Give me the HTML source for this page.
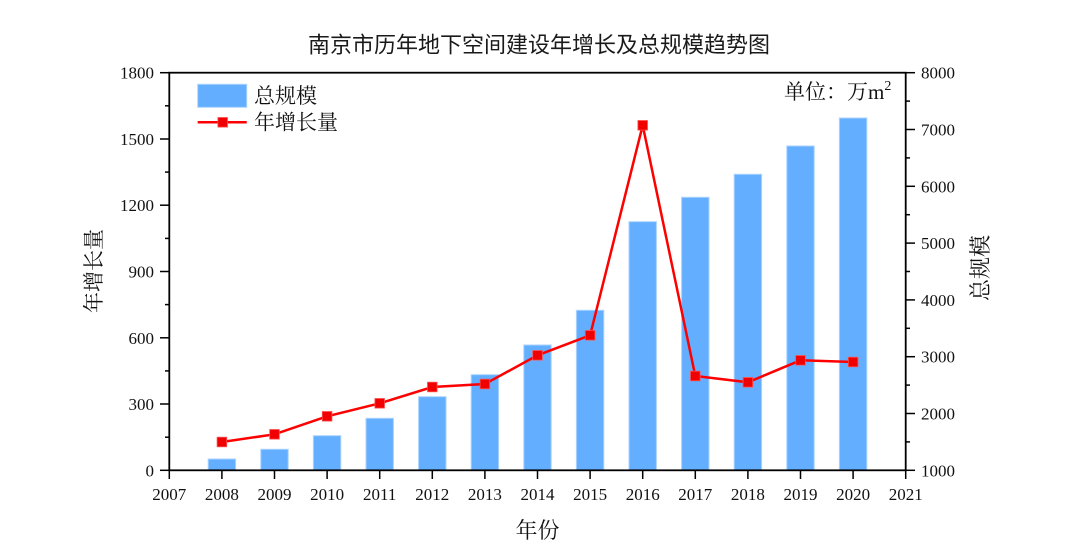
<!DOCTYPE html>
<html><head><meta charset="utf-8">
<style>
html,body{margin:0;padding:0;background:#fff;}
svg{display:block;}
.t{font-family:"Liberation Serif","Noto Serif CJK SC",serif;font-size:17px;fill:#111;}
.c{font-family:"Liberation Serif","Noto Serif CJK SC",serif;fill:#111;}
</style></head>
<body>
<svg width="1080" height="555" viewBox="0 0 1080 555" xmlns="http://www.w3.org/2000/svg">
<rect width="1080" height="555" fill="#fff"/>
<text x="539" y="52.5" text-anchor="middle" font-family="'Noto Sans CJK SC',sans-serif" font-size="22" fill="#1a1a1a">南京市历年地下空间建设年增长及总规模趋势图</text>

<!-- bars -->
<g fill="#63aeff" stroke="#a9d3ff" stroke-width="1">
<rect x="208.2" y="459" width="27.4" height="11.3"/>
<rect x="260.8" y="449.3" width="27.4" height="21"/>
<rect x="313.4" y="435.7" width="27.4" height="34.6"/>
<rect x="366.0" y="418.3" width="27.4" height="52"/>
<rect x="418.6" y="396.7" width="27.4" height="73.6"/>
<rect x="471.2" y="374.7" width="27.4" height="95.6"/>
<rect x="523.8" y="345" width="27.4" height="125.3"/>
<rect x="576.4" y="310.3" width="27.4" height="160"/>
<rect x="629.0" y="221.7" width="27.4" height="248.6"/>
<rect x="681.6" y="197.3" width="27.4" height="273"/>
<rect x="734.2" y="174.3" width="27.4" height="296"/>
<rect x="786.8" y="146" width="27.4" height="324.3"/>
<rect x="839.4" y="118" width="27.4" height="352.3"/>
</g>

<!-- line -->
<polyline fill="none" stroke="#ff0000" stroke-width="2.5" stroke-linejoin="miter"
points="221.9,442 274.5,434.3 327.1,416.3 379.7,403.3 432.3,387 484.9,384 537.5,355.3 590.1,335.3 642.7,125.3 695.3,376 747.9,382.3 800.5,360.3 853.1,362"/>
<g fill="#f00000" stroke="#ff5050" stroke-width="0.8">
<rect x="217.1" y="437.2" width="9.6" height="9.6"/>
<rect x="269.7" y="429.5" width="9.6" height="9.6"/>
<rect x="322.3" y="411.5" width="9.6" height="9.6"/>
<rect x="374.9" y="398.5" width="9.6" height="9.6"/>
<rect x="427.5" y="382.2" width="9.6" height="9.6"/>
<rect x="480.1" y="379.2" width="9.6" height="9.6"/>
<rect x="532.7" y="350.5" width="9.6" height="9.6"/>
<rect x="585.3" y="330.5" width="9.6" height="9.6"/>
<rect x="637.9" y="120.5" width="9.6" height="9.6"/>
<rect x="690.5" y="371.2" width="9.6" height="9.6"/>
<rect x="743.1" y="377.5" width="9.6" height="9.6"/>
<rect x="795.7" y="355.5" width="9.6" height="9.6"/>
<rect x="848.3" y="357.2" width="9.6" height="9.6"/>
</g>

<!-- frame -->
<rect x="169.3" y="72.7" width="736.4" height="397.6" fill="none" stroke="#000" stroke-width="1.8"/>

<!-- left ticks -->
<g stroke="#000" stroke-width="1.5">
<line x1="160" y1="470.3" x2="169.3" y2="470.3"/>
<line x1="160" y1="404" x2="169.3" y2="404"/>
<line x1="160" y1="337.8" x2="169.3" y2="337.8"/>
<line x1="160" y1="271.5" x2="169.3" y2="271.5"/>
<line x1="160" y1="205.2" x2="169.3" y2="205.2"/>
<line x1="160" y1="139" x2="169.3" y2="139"/>
<line x1="160" y1="72.7" x2="169.3" y2="72.7"/>
<line x1="165" y1="437.2" x2="169.3" y2="437.2"/>
<line x1="165" y1="370.9" x2="169.3" y2="370.9"/>
<line x1="165" y1="304.6" x2="169.3" y2="304.6"/>
<line x1="165" y1="238.4" x2="169.3" y2="238.4"/>
<line x1="165" y1="172.1" x2="169.3" y2="172.1"/>
<line x1="165" y1="105.8" x2="169.3" y2="105.8"/>
</g>
<!-- right ticks -->
<g stroke="#000" stroke-width="1.5">
<line x1="905.7" y1="470.3" x2="915" y2="470.3"/>
<line x1="905.7" y1="413.5" x2="915" y2="413.5"/>
<line x1="905.7" y1="356.7" x2="915" y2="356.7"/>
<line x1="905.7" y1="299.9" x2="915" y2="299.9"/>
<line x1="905.7" y1="243.1" x2="915" y2="243.1"/>
<line x1="905.7" y1="186.3" x2="915" y2="186.3"/>
<line x1="905.7" y1="129.5" x2="915" y2="129.5"/>
<line x1="905.7" y1="72.7" x2="915" y2="72.7"/>
<line x1="905.7" y1="441.9" x2="910" y2="441.9"/>
<line x1="905.7" y1="385.1" x2="910" y2="385.1"/>
<line x1="905.7" y1="328.3" x2="910" y2="328.3"/>
<line x1="905.7" y1="271.5" x2="910" y2="271.5"/>
<line x1="905.7" y1="214.7" x2="910" y2="214.7"/>
<line x1="905.7" y1="157.9" x2="910" y2="157.9"/>
<line x1="905.7" y1="101.1" x2="910" y2="101.1"/>
</g>
<!-- bottom ticks -->
<g stroke="#000" stroke-width="1.5">
<line x1="169.3" y1="470.3" x2="169.3" y2="479"/>
<line x1="221.9" y1="470.3" x2="221.9" y2="479"/>
<line x1="274.5" y1="470.3" x2="274.5" y2="479"/>
<line x1="327.1" y1="470.3" x2="327.1" y2="479"/>
<line x1="379.7" y1="470.3" x2="379.7" y2="479"/>
<line x1="432.3" y1="470.3" x2="432.3" y2="479"/>
<line x1="484.9" y1="470.3" x2="484.9" y2="479"/>
<line x1="537.5" y1="470.3" x2="537.5" y2="479"/>
<line x1="590.1" y1="470.3" x2="590.1" y2="479"/>
<line x1="642.7" y1="470.3" x2="642.7" y2="479"/>
<line x1="695.3" y1="470.3" x2="695.3" y2="479"/>
<line x1="747.9" y1="470.3" x2="747.9" y2="479"/>
<line x1="800.5" y1="470.3" x2="800.5" y2="479"/>
<line x1="853.1" y1="470.3" x2="853.1" y2="479"/>
<line x1="905.7" y1="470.3" x2="905.7" y2="479"/>
</g>

<!-- left labels -->
<g class="t" text-anchor="end">
<text x="154" y="476.3">0</text>
<text x="154" y="410">300</text>
<text x="154" y="343.8">600</text>
<text x="154" y="277.5">900</text>
<text x="154" y="211.2">1200</text>
<text x="154" y="145">1500</text>
<text x="154" y="78.7">1800</text>
</g>
<!-- right labels -->
<g class="t" text-anchor="start">
<text x="921" y="476.3">1000</text>
<text x="921" y="419.5">2000</text>
<text x="921" y="362.7">3000</text>
<text x="921" y="305.9">4000</text>
<text x="921" y="249.1">5000</text>
<text x="921" y="192.3">6000</text>
<text x="921" y="135.5">7000</text>
<text x="921" y="78.7">8000</text>
</g>
<!-- bottom labels -->
<g class="t" text-anchor="middle">
<text x="169.3" y="500">2007</text>
<text x="221.9" y="500">2008</text>
<text x="274.5" y="500">2009</text>
<text x="327.1" y="500">2010</text>
<text x="379.7" y="500">2011</text>
<text x="432.3" y="500">2012</text>
<text x="484.9" y="500">2013</text>
<text x="537.5" y="500">2014</text>
<text x="590.1" y="500">2015</text>
<text x="642.7" y="500">2016</text>
<text x="695.3" y="500">2017</text>
<text x="747.9" y="500">2018</text>
<text x="800.5" y="500">2019</text>
<text x="853.1" y="500">2020</text>
<text x="905.7" y="500">2021</text>
</g>

<!-- axis titles -->
<text class="c" x="537.5" y="538" text-anchor="middle" font-size="22">年份</text>
<text class="c" transform="translate(101,271) rotate(-90)" text-anchor="middle" font-size="21">年增长量</text>
<text class="c" transform="translate(988,268) rotate(-90)" text-anchor="middle" font-size="22">总规模</text>

<!-- legend -->
<rect x="197.7" y="84.3" width="49" height="23" fill="#63aeff" stroke="#a9d3ff" stroke-width="1"/>
<text class="c" x="254" y="103" font-size="21">总规模</text>
<line x1="197.7" y1="122.3" x2="246.7" y2="122.3" stroke="#ff0000" stroke-width="2.5"/>
<rect x="217.9" y="117.5" width="9.6" height="9.6" fill="#f00000" stroke="#ff5050" stroke-width="0.8"/>
<text class="c" x="254" y="129.5" font-size="21">年增长量</text>

<!-- unit -->
<text class="c" x="784" y="99" font-size="21">单位：万m<tspan font-size="14" dy="-9">2</tspan></text>
</svg>
</body></html>
